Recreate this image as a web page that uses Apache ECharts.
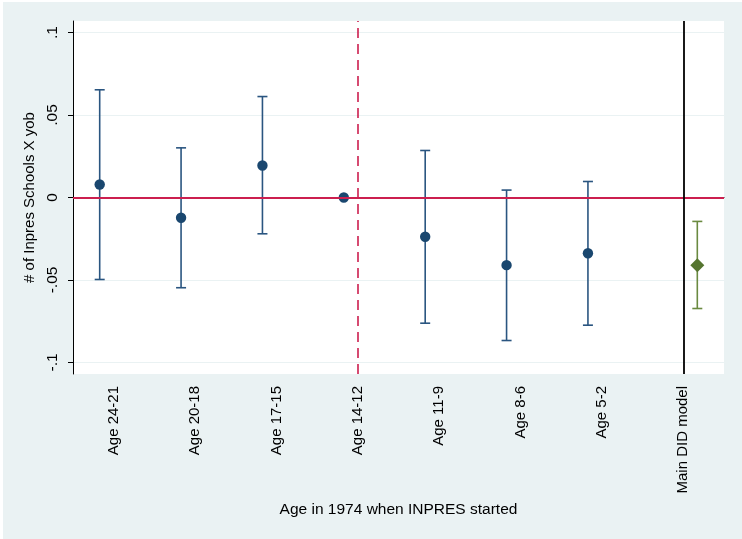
<!DOCTYPE html>
<html>
<head>
<meta charset="utf-8">
<script src="https://cdn.jsdelivr.net/npm/echarts@6/dist/echarts.min.js"></script>
<style>html,body{margin:0;padding:0;background:#fff}#c{width:742px;height:539px}</style>
</head>
<body>
<div id="c"></div>
<script>
// ---- data ----
var categories = ['Age 24-21','Age 20-18','Age 17-15','Age 14-12','Age 11-9','Age 8-6','Age 5-2','Main DID model'];
var eventCats = ['Age 24-21','Age 20-18','Age 17-15','Age 14-12','Age 11-9','Age 8-6','Age 5-2'];
var eventEst = [0.0079, -0.0123, 0.0194, 0, -0.0238, -0.0410, -0.0338];
var eventLo  = [-0.0497, -0.0547, -0.0220, 0, -0.0762, -0.0867, -0.0774];
var eventHi  = [0.0653, 0.0301, 0.0612, 0, 0.0285, 0.0045, 0.0097];
var didCats = ['Main DID model'];
var didEst = [-0.0410];
var didLo  = [-0.0673];
var didHi  = [-0.0145];
var yTickValues = [-0.1, -0.05, 0, 0.05, 0.1];
var yTickLabels = ['-.1', '-.05', '0', '.05', '.1'];
var refCategory = 'Age 14-12';
var didCategory = 'Main DID model';

// ---- styles ----
var NAVY = '#1a476f', NAVY_BAR = '#2a5580', GREEN = '#55752f', RED = '#cc1f4f', BG = '#eaf2f3';
var FONT = '"Liberation Sans", Arial, Helvetica, sans-serif';

function rows(cats, e, l, h) {
  return cats.map(function (c, i) { return [c, e[i], l[i], h[i]]; });
}

function barRenderer(color, shift) {
  return function (params, api) {
    var band = api.size([1, 0])[0];
    var pMid = api.coord([api.value(0), api.value(1)]);
    var pLo = api.coord([api.value(0), api.value(2)]);
    var pHi = api.coord([api.value(0), api.value(3)]);
    var x = pMid[0] + shift * band;
    if (Math.abs(pLo[1] - pHi[1]) < 0.5) return { type: 'group', children: [] };
    var cap = 5;
    var st = { stroke: color, lineWidth: 1.6 };
    return {
      type: 'group',
      children: [
        { type: 'line', shape: { x1: x, y1: pLo[1], x2: x, y2: pHi[1] }, style: st },
        { type: 'line', shape: { x1: x - cap, y1: pLo[1], x2: x + cap, y2: pLo[1] }, style: st },
        { type: 'line', shape: { x1: x - cap, y1: pHi[1], x2: x + cap, y2: pHi[1] }, style: st }
      ]
    };
  };
}

function markerRenderer(color, shift, diamond) {
  return function (params, api) {
    var band = api.size([1, 0])[0];
    var p = api.coord([api.value(0), api.value(1)]);
    var x = p[0] + shift * band, y = p[1];
    if (diamond) {
      var r = 7;
      return { type: 'polygon', shape: { points: [[x, y - r], [x + r, y], [x, y + r], [x - r, y]] }, style: { fill: color } };
    }
    return { type: 'circle', shape: { cx: x, cy: y, r: 5.2 }, style: { fill: color } };
  };
}

var chart = echarts.init(document.getElementById('c'), null, { renderer: 'canvas' });
chart.setOption({
  animation: false,
  backgroundColor: BG,
  textStyle: { fontFamily: FONT },
  graphic: [
    { type: 'rect', shape: { x: 0, y: 0, width: 3, height: 539 }, style: { fill: '#fff' }, silent: true },
    { type: 'rect', shape: { x: 0, y: 0, width: 742, height: 2 }, style: { fill: '#fff' }, silent: true }
  ],
  grid: { left: 73, top: 21, right: 18, bottom: 165, show: true, backgroundColor: '#fff', borderWidth: 0 },
  xAxis: {
    type: 'category',
    data: categories,
    boundaryGap: true,
    name: 'Age in 1974 when INPRES started',
    nameLocation: 'middle',
    nameGap: 126,
    nameTextStyle: { color: '#000', fontSize: 15.5, fontFamily: FONT },
    axisLine: { lineStyle: { color: '#000', width: 1 } },
    axisTick: { alignWithLabel: true, length: 6, lineStyle: { color: '#000' } },
    axisLabel: { rotate: 90, margin: 12, color: '#000', fontSize: 15, fontFamily: FONT, interval: 0 },
    splitLine: { show: false }
  },
  yAxis: {
    type: 'value',
    min: -0.107,
    max: 0.107,
    name: '# of Inpres Schools X yob',
    nameLocation: 'middle',
    nameGap: 34,
    nameTextStyle: { color: '#000', fontSize: 15, fontFamily: FONT },
    axisLine: { show: true, lineStyle: { color: '#000', width: 1 } },
    axisTick: { show: true, length: 5, customValues: yTickValues, lineStyle: { color: '#000' } },
    axisLabel: {
      rotate: 90, margin: 12, color: '#000', fontSize: 15.5, fontFamily: FONT,
      customValues: yTickValues,
      formatter: function (v) {
        for (var i = 0; i < yTickValues.length; i++) if (Math.abs(v - yTickValues[i]) < 1e-6) return yTickLabels[i];
        return '';
      }
    },
    splitLine: { show: true, lineStyle: { color: BG, width: 1.2 } }
  },
  series: [
    {
      type: 'custom', z: 2,
      data: rows(eventCats, eventEst, eventLo, eventHi),
      renderItem: barRenderer(NAVY_BAR, -0.172),
      encode: { x: 0, y: [1, 2, 3] }
    },
    {
      type: 'custom', z: 2,
      data: rows(didCats, didEst, didLo, didHi),
      renderItem: barRenderer('#6a8a40', 0.172),
      encode: { x: 0, y: [1, 2, 3] }
    },
    {
      type: 'line', z: 3, data: [], symbol: 'none',
      markLine: {
        silent: true, symbol: 'none', label: { show: false }, animation: false,
        data: [
          { yAxis: 0, lineStyle: { color: RED, width: 1.8, type: 'solid' } },
          { xAxis: refCategory, lineStyle: { color: RED, width: 1.6, type: [10, 6] } },
          { xAxis: didCategory, lineStyle: { color: '#000', width: 1.8, type: 'solid' } }
        ]
      }
    },
    {
      type: 'custom', z: 4,
      data: rows(eventCats, eventEst, eventLo, eventHi),
      renderItem: markerRenderer(NAVY, -0.172, false),
      encode: { x: 0, y: 1 }
    },
    {
      type: 'custom', z: 4,
      data: rows(didCats, didEst, didLo, didHi),
      renderItem: markerRenderer(GREEN, 0.172, true),
      encode: { x: 0, y: 1 }
    }
  ]
});
</script>
</body>
</html>
